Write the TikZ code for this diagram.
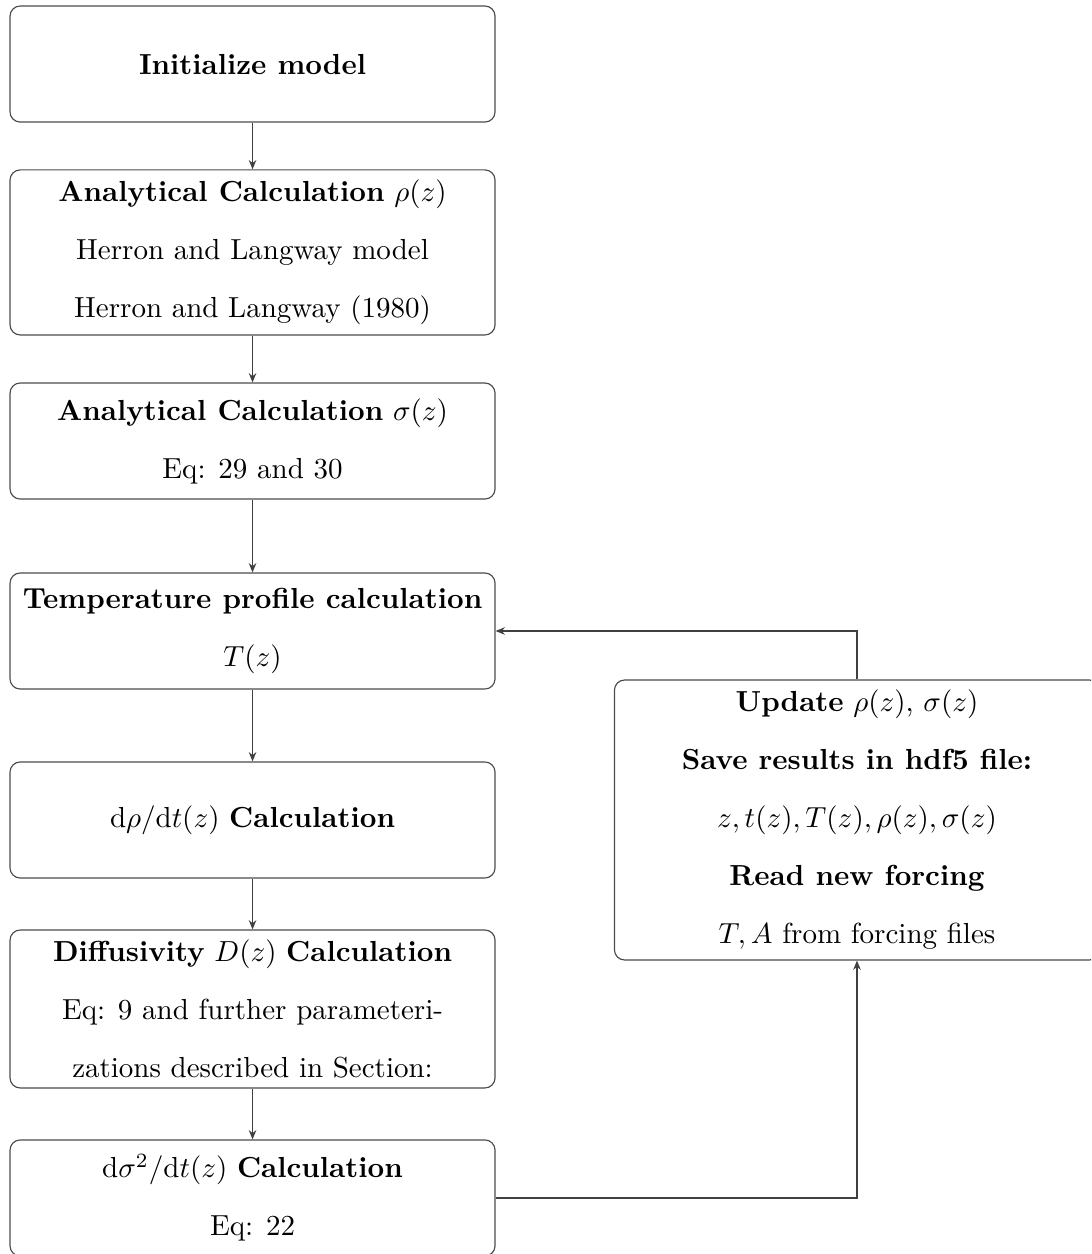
\documentclass[tikz,border=0pt]{standalone}
\usetikzlibrary{arrows.meta}
\begin{document}
\begin{tikzpicture}[
    >={Stealth[length=3.2pt,width=2.6pt]},
    every node/.style={font=\fontsize{10pt}{20pt}\selectfont},
    stage/.style={draw=black!70,thin,rounded corners=3.5pt,align=center,
        minimum width=5.877cm,minimum height=1.406cm,inner sep=2pt},
    link/.style={draw=black!75,thin}]
    \clip (0,0) rectangle (13.22,-15.195);
    % main column
    \node[stage] (init) at (3.06,-0.776) {\textbf{Initialize model}};
    \node[stage,minimum height=2cm] (rhocalc) at (3.06,-3.059)
        {\textbf{Analytical Calculation} $\rho(z)$\\
         Herron and Langway model\\
         Herron and Langway (1980)};
    \node[stage] (sigcalc) at (3.06,-5.344)
        {\textbf{Analytical Calculation} $\sigma(z)$\\
         Eq: 29 and 30};
    \node[stage] (tempcalc) at (3.06,-7.646)
        {\textbf{Temperature profile calculation}\\
         $T(z)$};
    \node[stage] (drhodt) at (3.06,-9.936)
        {$\mathrm{d}\rho/\mathrm{d}t(z)$ \textbf{Calculation}};
    \node[stage,minimum height=1.914cm] (diffus) at (3.06,-12.226)
        {\textbf{Diffusivity} $D(z)$ \textbf{Calculation}\\
         Eq: 9 and further parameteri-\\
         zations described in Section:};
    \node[stage] (dsigdt) at (3.06,-14.516)
        {$\mathrm{d}\sigma^2/\mathrm{d}t(z)$ \textbf{Calculation}\\
         Eq: 22};
    % update step
    \node[stage,minimum height=3.393cm] (update) at (10.384,-9.936)
        {\textbf{Update} $\rho(z)$, $\sigma(z)$\\
         \textbf{Save results in hdf5 file:}\\
         $z,t(z),T(z),\rho(z),\sigma(z)$\\
         \textbf{Read new forcing}\\
         $T,A$ from forcing files};
    \draw[link,->] (init) -- (rhocalc);
    \draw[link,->] (rhocalc) -- (sigcalc);
    \draw[link,->] (sigcalc) -- (tempcalc);
    \draw[link,->] (tempcalc) -- (drhodt);
    \draw[link,->] (drhodt) -- (diffus);
    \draw[link,->] (diffus) -- (dsigdt);
    \draw[link,->] (dsigdt.east) -| (update.south);
    \draw[link,->] (update.north) |- (tempcalc.east);
\end{tikzpicture}
\end{document}
